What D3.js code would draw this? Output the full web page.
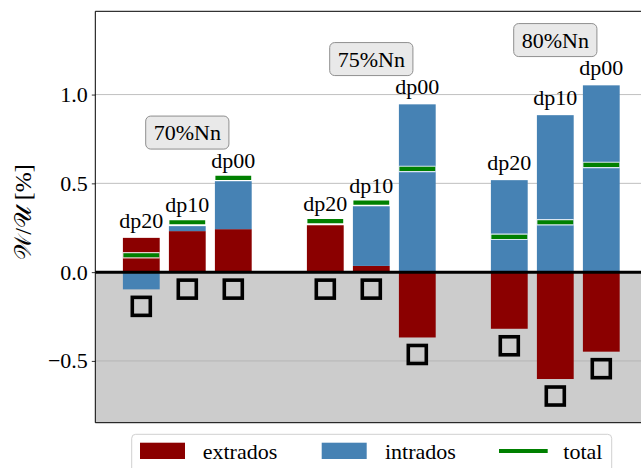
<!DOCTYPE html>
<html>
<head>
<meta charset="utf-8">
<script src="https://cdn.jsdelivr.net/npm/d3@7"></script>
<style>
  body { margin: 0; background: #fff; }
  text { font-family: "Liberation Serif", "DejaVu Serif", serif; }
</style>
</head>
<body>
<div id="chart"></div>
<script>
var width = 641;
var height = 468;

// data
var groups = ["70%Nn", "75%Nn", "80%Nn"];
var configs = ["dp20", "dp10", "dp00"];
var xpos = [0, 1, 2, 4, 5, 6, 8, 9, 10];
var extrados = [0.193, 0.231, 0.242, 0.264, 0.035, -0.368, -0.319, -0.602, -0.448];
var intrados = [-0.097, 0.028, 0.270, 0.0, 0.336, 0.945, 0.518, 0.884, 1.052];
var total = [0.095, 0.281, 0.531, 0.287, 0.392, 0.581, 0.199, 0.281, 0.604];
var yticks = [-0.5, 0.0, 0.5, 1.0];

var plotL = 95.3, plotR = 647.3, plotT = 11.3, plotB = 422.7;
var barw = 0.8;

var xscale = d3.scaleLinear().domain([-1, 11]).range([plotL, plotR]);
var yscale = d3.scaleLinear().domain([-0.848, 1.469]).range([plotB, plotT]);

var svg = d3.select("#chart").append("svg")
  .attr("width", width).attr("height", height);

// rows with stacking
var rows = xpos.map(function (p, i) {
  var e = extrados[i], n = intrados[i];
  var base = (e >= 0) === (n >= 0) ? e : 0;
  return {
    x: p, ext: e, intr: n, base: base, tot: total[i],
    cfg: configs[i % 3], grp: Math.floor(i / 3)
  };
});
rows.forEach(function (r) {
  r.hi = Math.max(0, r.ext, r.base + r.intr, r.tot);
  r.low = Math.min(0, r.ext, r.base + r.intr);
});

// grey area below zero
svg.append("rect")
  .attr("x", plotL).attr("y", yscale(0))
  .attr("width", plotR - plotL).attr("height", plotB - yscale(0))
  .attr("fill", "#cccccc");

// grid
svg.selectAll(".grid").data(yticks.filter(function (d) { return d !== 0; }))
  .enter().append("line")
  .attr("x1", plotL).attr("x2", plotR)
  .attr("y1", function (d) { return yscale(d); })
  .attr("y2", function (d) { return yscale(d); })
  .attr("stroke", "#b0b0b0").attr("stroke-width", 0.8);

// extrados bars
svg.selectAll(".ext").data(rows).enter().append("rect")
  .attr("x", function (d) { return xscale(d.x - barw / 2); })
  .attr("width", xscale(barw) - xscale(0))
  .attr("y", function (d) { return yscale(Math.max(0, d.ext)); })
  .attr("height", function (d) { return Math.abs(yscale(d.ext) - yscale(0)); })
  .attr("fill", "#8b0000");

// intrados bars (stacked when same sign)
svg.selectAll(".intr").data(rows).enter().append("rect")
  .attr("x", function (d) { return xscale(d.x - barw / 2); })
  .attr("width", xscale(barw) - xscale(0))
  .attr("y", function (d) { return yscale(Math.max(d.base, d.base + d.intr)); })
  .attr("height", function (d) { return Math.abs(yscale(d.base + d.intr) - yscale(d.base)); })
  .attr("fill", "#4682b4");

// total lines, white edge then green
svg.selectAll(".totw").data(rows).enter().append("line")
  .attr("x1", function (d) { return xscale(d.x - barw / 2); })
  .attr("x2", function (d) { return xscale(d.x + barw / 2); })
  .attr("y1", function (d) { return yscale(d.tot); })
  .attr("y2", function (d) { return yscale(d.tot); })
  .attr("stroke", "#ffffff").attr("stroke-width", 6.5).attr("stroke-opacity", 0.8);
svg.selectAll(".tot").data(rows).enter().append("line")
  .attr("x1", function (d) { return xscale(d.x - barw / 2) + 0.5; })
  .attr("x2", function (d) { return xscale(d.x + barw / 2) - 0.5; })
  .attr("y1", function (d) { return yscale(d.tot); })
  .attr("y2", function (d) { return yscale(d.tot); })
  .attr("stroke", "#008000").attr("stroke-width", 4.2);

// zero line
svg.append("line")
  .attr("x1", plotL).attr("x2", plotR)
  .attr("y1", yscale(0)).attr("y2", yscale(0))
  .attr("stroke", "#000").attr("stroke-width", 3);

// square markers below bars
svg.selectAll(".sq").data(rows).enter().append("rect")
  .attr("x", function (d) { return xscale(d.x) - 9; })
  .attr("y", function (d) { return yscale(d.low) + 17 - 9; })
  .attr("width", 18).attr("height", 18)
  .attr("fill", "none").attr("stroke", "#000").attr("stroke-width", 3.6);

// config labels
svg.selectAll(".cfg").data(rows).enter().append("text")
  .attr("x", function (d) { return xscale(d.x); })
  .attr("y", function (d) { return yscale(d.hi) - 10; })
  .attr("text-anchor", "middle")
  .attr("font-size", 22)
  .text(function (d) { return d.cfg; });

// group boxes
groups.forEach(function (g, gi) {
  var grows = rows.filter(function (r) { return r.grp === gi; });
  var maxTop = d3.max(grows, function (r) { return r.hi; });
  var cx = xscale(grows[1].x);
  var cy = yscale(maxTop + 0.255);
  var gg = svg.append("g");
  var box = gg.append("rect");
  var t = gg.append("text")
    .attr("x", cx).attr("y", cy)
    .attr("text-anchor", "middle")
    .attr("dominant-baseline", "central")
    .attr("font-size", 22)
    .text(g);
  var bb = t.node().getBBox();
  box.attr("x", bb.x - 8).attr("y", cy - 16.5)
    .attr("width", bb.width + 16).attr("height", 33)
    .attr("rx", 5).attr("ry", 5)
    .attr("fill", "#e9e9e9").attr("stroke", "#8f8f8f").attr("stroke-width", 1);
});

// y axis
var yaxis = d3.axisLeft(yscale)
  .tickValues(yticks)
  .tickFormat(function (d) { return d3.format(".1f")(d).replace("-", "\u2212"); })
  .tickSize(3.5).tickPadding(4);
var ya = svg.append("g")
  .attr("transform", "translate(" + plotL + ",0)")
  .call(yaxis);
ya.select(".domain").remove();
ya.selectAll("text").attr("font-size", 22).attr("font-family", "Liberation Serif").attr("fill", "#000");
ya.selectAll("line").attr("stroke", "#000").attr("stroke-width", 0.8);

// spines
svg.append("line").attr("x1", plotL).attr("x2", plotL).attr("y1", plotT).attr("y2", plotB)
  .attr("stroke", "#000").attr("stroke-width", 1);
svg.append("line").attr("x1", plotL).attr("x2", plotR).attr("y1", plotT).attr("y2", plotT)
  .attr("stroke", "#000").attr("stroke-width", 1);
svg.append("line").attr("x1", plotL).attr("x2", plotR).attr("y1", plotB).attr("y2", plotB)
  .attr("stroke", "#000").attr("stroke-width", 1);

// y label
svg.append("text")
  .attr("transform", "translate(23,212) rotate(-90)")
  .attr("text-anchor", "middle")
  .attr("dominant-baseline", "central")
  .attr("font-size", 24)
  .text("\uD835\uDCB2/\uD835\uDCB0 [%]");

// legend
var leg = svg.append("g");
leg.append("rect")
  .attr("x", 131.7).attr("y", 434.3).attr("width", 480).attr("height", 45)
  .attr("rx", 4).attr("fill", "#fff").attr("fill-opacity", 0.8)
  .attr("stroke", "#d0d0d0").attr("stroke-width", 1);
var legItems = [
  { label: "extrados", color: "#8b0000", kind: "patch", x: 140, tx: 202.7 },
  { label: "intrados", color: "#4682b4", kind: "patch", x: 321.7, tx: 385 },
  { label: "total", color: "#008000", kind: "line", x: 499, tx: 563.3 }
];
legItems.forEach(function (it) {
  if (it.kind === "patch") {
    leg.append("rect").attr("x", it.x).attr("y", 442.7)
      .attr("width", 45).attr("height", 16.3).attr("fill", it.color);
  } else {
    leg.append("line").attr("x1", it.x).attr("x2", it.x + 48.7)
      .attr("y1", 451).attr("y2", 451)
      .attr("stroke", it.color).attr("stroke-width", 4);
  }
  leg.append("text").attr("x", it.tx).attr("y", 458.5)
    .attr("font-size", 22).text(it.label);
});
</script>
</body>
</html>
